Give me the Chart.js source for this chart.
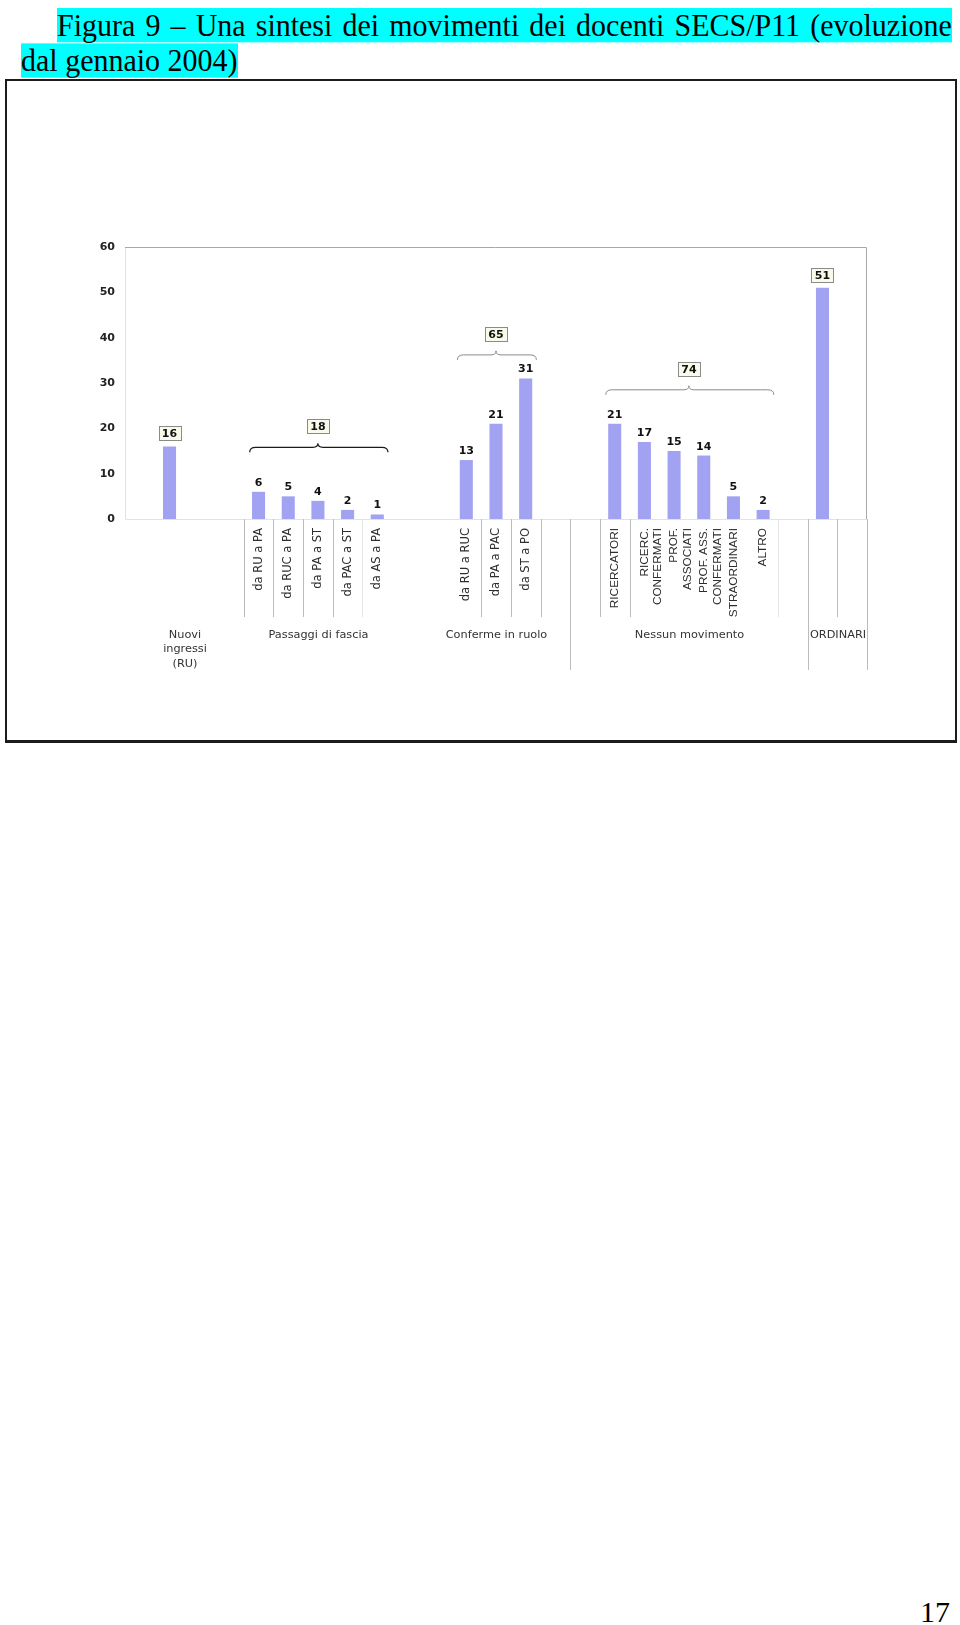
<!DOCTYPE html>
<html>
<head>
<meta charset="utf-8">
<title>Figura 9</title>
<script src="https://cdn.jsdelivr.net/npm/chart.js@4.4.1/dist/chart.umd.min.js"></script>
<style>
html, body { margin: 0; padding: 0; background: #fff; }
body { width: 960px; height: 1625px; position: relative; overflow: hidden; }
#caption {
    position: absolute; left: 21px; top: 8px; width: 935px;
    font-family: "Liberation Serif", "Times New Roman", serif;
    font-size: 30px; line-height: 34px; color: #000;
    text-indent: 36px; white-space: nowrap;
    transform: scaleY(1.04); transform-origin: 0 0;
}
#caption span { background: #00ffff; }
#caption .first { word-spacing: 2.6px; }
#frame {
    position: absolute; left: 5px; top: 79px; width: 952px; height: 664px;
    box-sizing: border-box; border: 2px solid #1c1c1c; border-bottom-width: 3px;
}
#chart { position: absolute; left: 7px; top: 81px; }
#page-num {
    position: absolute; left: 920px; top: 1597px;
    font-family: "Liberation Serif", "Times New Roman", serif;
    font-size: 30px; line-height: 30px;
}
</style>
</head>
<body>
<div id="caption"><span class="first">Figura 9 – Una sintesi dei movimenti dei docenti SECS/P11 (evoluzione</span><br><span>dal gennaio 2004)</span></div>
<div id="frame"></div>
<canvas id="chart" width="948" height="660"></canvas>
<div id="page-num">17</div>

<script>
// categories on the x axis (one slot per column, empty ones are gaps)
const categories = [
    '', '', '', '',
    'da RU a PA', 'da RUC a PA', 'da PA a ST', 'da PAC a ST', 'da AS a PA',
    '', '',
    'da RU a RUC', 'da PA a PAC', 'da ST a PO',
    '', '',
    'RICERCATORI', ['RICERC.', 'CONFERMATI'], ['PROF.', 'ASSOCIATI'], ['PROF. ASS.', 'CONFERMATI'], 'STRAORDINARI', 'ALTRO',
    '', '', ''
]
const values = [
    null, 16, null, null,
    6, 5, 4, 2, 1,
    null, null,
    13, 21, 31,
    null, null,
    21, 17, 15, 14, 5, 2,
    null, 51, null
]
const boxedValueIndexes = [1, 23]

// second level of the axis: name and first/last slot
const groupNames = [['Nuovi', 'ingressi', '(RU)'], ['Passaggi di fascia'], ['Conferme in ruolo'], ['Nessun movimento'], ['ORDINARI']]
const groupSlots = [[0, 3], [4, 8], [10, 14], [15, 22], [23, 24]]

// braces with totals over some groups
const braceSlots = [[4, 8], [11, 13], [16, 21]]
const braceTotals = [18, 65, 74]
const braceLevels = [15.8, 36.2, 28.5] // in axis units

const yTicks = [0, 10, 20, 30, 40, 50, 60]

const FONT_VERDANA = '"DejaVu Sans", Verdana, sans-serif'
const FONT_ARIAL = '"Liberation Sans", Arial, sans-serif'
const BAR_COLOR = '#a2a2f2'

// separator lines under the axis (slot boundaries)
const shortLines = [4, 5, 6, 7, 12, 13, 14, 16, 17, 24]
const faintLines = [8, 22]
const longLines = [15, 23, 25]

function drawBrace(ctx, x1, x2, xm, yb) {
    ctx.beginPath()
    ctx.moveTo(x1, yb + 5)
    ctx.quadraticCurveTo(x1, yb, x1 + 6, yb)
    ctx.lineTo(xm - 5, yb)
    ctx.quadraticCurveTo(xm, yb, xm, yb - 4)
    ctx.quadraticCurveTo(xm, yb, xm + 5, yb)
    ctx.lineTo(x2 - 6, yb)
    ctx.quadraticCurveTo(x2, yb, x2, yb + 5)
    ctx.stroke()
}

function boxedLabel(ctx, text, cx, cy) {
    ctx.font = 'bold 11px ' + FONT_VERDANA
    const w = Math.round(ctx.measureText(text).width + 7)
    const h = 14
    const left = Math.round(cx - w / 2)
    const top = Math.round(cy - h / 2)
    ctx.fillStyle = '#fafaea'
    ctx.fillRect(left, top, w, h)
    ctx.strokeStyle = '#8a8a8a'
    ctx.lineWidth = 1
    ctx.strokeRect(left + 0.5, top + 0.5, w, h)
    ctx.fillStyle = '#111'
    ctx.textAlign = 'center'
    ctx.textBaseline = 'middle'
    ctx.fillText(text, cx, cy + 1)
}

const decorations = {
    id: 'decorations',
    beforeDatasetsDraw(chart) {
        const ctx = chart.ctx
        const a = chart.chartArea
        ctx.save()
        ctx.lineWidth = 1
        ctx.strokeStyle = '#e2e2e2'
        ctx.beginPath()
        ctx.moveTo(a.left + 0.5, a.top)
        ctx.lineTo(a.left + 0.5, a.bottom + 0.5)
        ctx.lineTo(a.right, a.bottom + 0.5)
        ctx.stroke()
        ctx.strokeStyle = '#a8a8a8'
        ctx.beginPath()
        ctx.moveTo(a.left, a.top + 0.5)
        ctx.lineTo(a.right - 0.5, a.top + 0.5)
        ctx.lineTo(a.right - 0.5, a.bottom)
        ctx.stroke()
        ctx.restore()
    },
    afterDraw(chart) {
        const ctx = chart.ctx
        const x = chart.scales.x
        const y = chart.scales.y
        const a = chart.chartArea
        const half = (x.getPixelForValue(1) - x.getPixelForValue(0)) / 2
        const edge = k => Math.round(x.getPixelForValue(k) - half) + 0.5
        ctx.save()

        // separator lines
        ctx.lineWidth = 1
        ctx.strokeStyle = '#bcbcbc'
        shortLines.forEach(k => {
            ctx.beginPath(); ctx.moveTo(edge(k), a.bottom); ctx.lineTo(edge(k), a.bottom + 98); ctx.stroke()
        })
        longLines.forEach(k => {
            ctx.beginPath(); ctx.moveTo(edge(k), a.bottom); ctx.lineTo(edge(k), a.bottom + 151); ctx.stroke()
        })
        ctx.strokeStyle = '#e6e6e6'
        faintLines.forEach(k => {
            ctx.beginPath(); ctx.moveTo(edge(k), a.bottom); ctx.lineTo(edge(k), a.bottom + 98); ctx.stroke()
        })

        // group names
        ctx.fillStyle = '#333'
        ctx.font = '11.3px ' + FONT_VERDANA
        ctx.textAlign = 'center'
        ctx.textBaseline = 'middle'
        groupNames.forEach((lines, g) => {
            const [s, e] = groupSlots[g]
            const cx = (edge(s) + edge(e + 1)) / 2
            lines.forEach((line, j) => ctx.fillText(line, cx, a.bottom + 116 + j * 14.5))
        })

        // value labels
        const meta = chart.getDatasetMeta(0)
        meta.data.forEach((bar, i) => {
            if (values[i] == null) return
            if (boxedValueIndexes.includes(i)) {
                boxedLabel(ctx, String(values[i]), bar.x, bar.y - 13)
            } else {
                ctx.font = 'bold 11px ' + FONT_VERDANA
                ctx.fillStyle = '#111'
                ctx.textAlign = 'center'
                ctx.textBaseline = 'alphabetic'
                ctx.fillText(String(values[i]), bar.x, bar.y - 6)
            }
        })

        // braces with totals
        ctx.strokeStyle = '#1a1a1a'
        ctx.lineWidth = 1.2
        braceSlots.forEach(([s, e], b) => {
            const x1 = x.getPixelForValue(s) - half * 0.6
            const x2 = x.getPixelForValue(e) + half * 0.72
            const xm = (x.getPixelForValue(s) + x.getPixelForValue(e)) / 2
            const yb = y.getPixelForValue(braceLevels[b])
            drawBrace(ctx, x1, x2, xm, yb)
            boxedLabel(ctx, String(braceTotals[b]), xm, yb - 21)
        })
        ctx.restore()
    }
}

new Chart(document.getElementById('chart').getContext('2d'), {
    type: 'bar',
    data: {
        labels: categories,
        datasets: [{
            data: values,
            backgroundColor: BAR_COLOR,
            borderWidth: 0,
            barPercentage: 0.44,
            categoryPercentage: 1
        }]
    },
    options: {
        responsive: false,
        animation: false,
        devicePixelRatio: 1,
        layout: { padding: { top: 166, right: 88, left: 0, bottom: 0 } },
        plugins: { legend: { display: false }, tooltip: { enabled: false } },
        scales: {
            x: {
                grid: { display: false, drawTicks: false },
                border: { display: false },
                ticks: {
                    autoSkip: false,
                    minRotation: 90,
                    maxRotation: 90,
                    padding: 9,
                    color: '#2e2e2e',
                    font: c => c.index >= 16
                        ? { family: FONT_ARIAL, size: 11.8, lineHeight: 1.15 }
                        : { family: FONT_VERDANA, size: 11.5, lineHeight: 1.2 }
                },
                afterFit: scale => { scale.height = 222 }
            },
            y: {
                min: 0,
                max: 60,
                grid: { display: false, drawTicks: false },
                border: { display: false },
                afterBuildTicks: scale => { scale.ticks = yTicks.map(v => ({ value: v })) },
                ticks: {
                    padding: 10,
                    color: '#222',
                    font: { family: FONT_VERDANA, size: 11, weight: 'bold' }
                },
                afterFit: scale => { scale.width = 118 }
            }
        }
    },
    plugins: [decorations]
})
</script>
</body>
</html>
